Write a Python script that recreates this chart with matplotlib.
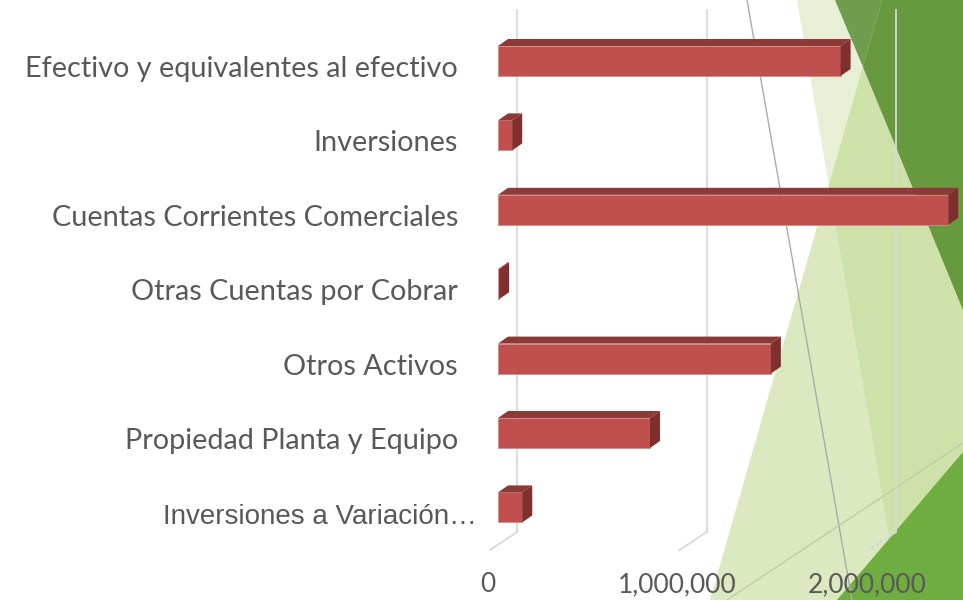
import matplotlib
matplotlib.use("Agg")
import matplotlib.pyplot as plt
from matplotlib.patches import Polygon
from matplotlib import font_manager

# datos
categorias = ["Efectivo y equivalentes al efectivo", "Inversiones",
              "Cuentas Corrientes Comerciales", "Otras Cuentas por Cobrar",
              "Otros Activos", "Propiedad Planta y Equipo",
              "Inversiones a Variación…"]
valores = [1808000, 75000, 2376000, 6000, 1440000, 802000, 128000]
ticks_x = [0, 1000000, 2000000]
ticks_txt = ["0", "1,000,000", "2,000,000"]

fuentes = {f.name for f in font_manager.fontManager.ttflist}
fuente = "Lato" if "Lato" in fuentes else "DejaVu Sans"
fuente_estrecha = "Liberation Sans Narrow" if "Liberation Sans Narrow" in fuentes else "Liberation Sans"

W, H = 963, 600
fig = plt.figure(figsize=(W / 100, H / 100), dpi=100)

# fondo decorativo (tema verde a la derecha)
bg = fig.add_axes([0, 0, 1, 1])
bg.set_xlim(0, W)
bg.set_ylim(H, 0)
bg.axis("off")
verde = "#AECE6F"
bg.add_patch(Polygon([(797, 0), (963, 0), (963, 600), (900, 600)], color=verde, alpha=0.285, lw=0))
bg.add_patch(Polygon([(882, 0), (963, 0), (963, 600), (710, 600)], color=verde, alpha=0.43, lw=0))
bg.add_patch(Polygon([(835, 0), (882, 0), (863, 67)], color="#6E9D4E", lw=0))
bg.add_patch(Polygon([(882, 0), (963, 0), (963, 310), (863, 67)], color="#679A3E", lw=0))
bg.add_patch(Polygon([(963, 452), (963, 600), (837, 600)], color="#70AD40", lw=0))
bg.plot([747, 852], [0, 600], color="#A8ADA3", lw=1.0)
bg.plot([727, 963], [600, 443], color="#BFCCA6", lw=1.0)

# ejes principales (plano frontal de las barras)
px_m = 189.5 / 1e6      # pixeles por unidad
px_cat = 74.4           # pixeles por categoria
ax = fig.add_axes([498 / W, 48 / H, (W - 498) / W, 544 / H])
ax.patch.set_alpha(0)
ax.set_xlim(0, (W - 498) / px_m)
ax.set_ylim((552 - 61) / px_cat, (8 - 61) / px_cat)
ax.axis("off")

h = 30 / px_cat
dx, dy = 10 / px_m, 7 / px_cat          # profundidad de la barra
bx, by = 19 / px_m, 13 / px_cat         # pared del fondo
fx = 8 / px_m                           # borde frontal del piso
g_top = (10 - 61) / px_cat
piso_y = (545 - 61) / px_cat

# lineas de cuadricula y piso
for v in ticks_x:
    ax.plot([v + bx, v + bx], [g_top, piso_y - by], color="#D9D9D9", lw=1.3, clip_on=False, zorder=1)
    ax.plot([v + bx, v - fx], [piso_y - by, piso_y + 5 / px_cat], color="#D9D9D9", lw=1.3, clip_on=False, zorder=1)

# barras 3D
for i, v in enumerate(valores):
    y0 = i - h / 2
    ax.barh(i, v, height=h, left=0, color="#C0504D", edgecolor="#D38A88", lw=0.6, zorder=3)
    ax.add_patch(Polygon([(0, y0), (v, y0), (v + dx, y0 - dy), (dx, y0 - dy)],
                         color="#8B3A38", lw=0, zorder=3, clip_on=False))
    ax.add_patch(Polygon([(v, y0), (v + dx, y0 - dy), (v + dx, y0 + h - dy), (v, y0 + h)],
                         color="#7F302E", lw=0, zorder=3, clip_on=False))

# etiquetas de categoria
for i, c in enumerate(categorias):
    if i == len(categorias) - 1:
        ax.text(-21 / px_m, i + 10 / px_cat, c, ha="right", va="center", fontsize=20,
                family=fuente_estrecha, color="#595959", clip_on=False)
    else:
        ax.text(-40 / px_m, i + 8 / px_cat, c, ha="right", va="center", fontsize=20.8,
                family=fuente, color="#595959", clip_on=False)

# etiquetas del eje x
for v, t in zip(ticks_x, ticks_txt):
    ax.text(v - 10 / px_m, (585 - 61) / px_cat, t, ha="center", va="center", fontsize=19,
            family=fuente, color="#595959", clip_on=False)

fig.savefig("out.png", dpi=100)
